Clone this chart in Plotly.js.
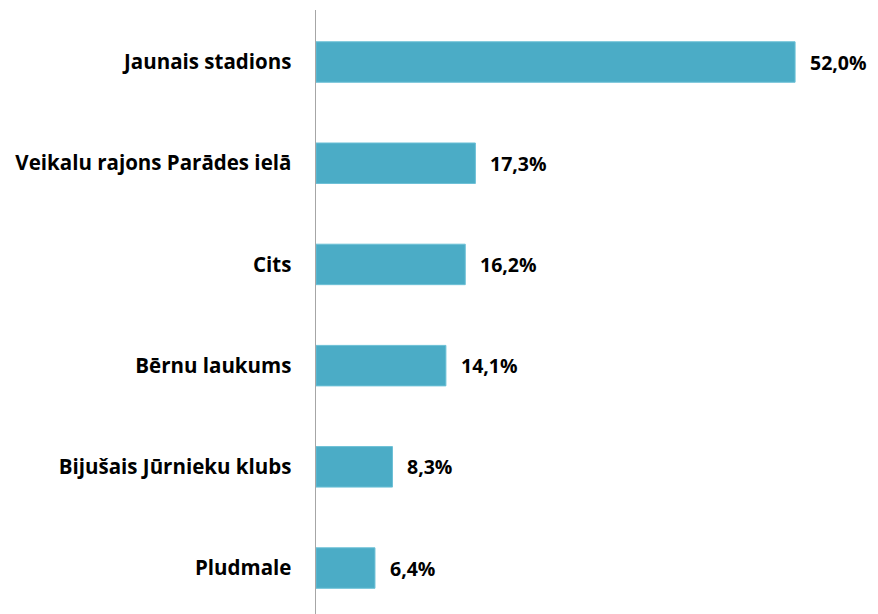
<!DOCTYPE html>
<html>
<head>
<meta charset="utf-8">
<script src="https://cdn.plot.ly/plotly-3.0.1.min.js"></script>
<style>html,body{margin:0;padding:0;background:#fff;}#chart{width:878px;height:614px;}</style>
</head>
<body>
<div id="chart"></div>
<script>
const categories = ["Jaunais stadions", "Veikalu rajons Parādes ielā", "Cits", "Bērnu laukums", "Bijušais Jūrnieku klubs", "Pludmale"];
const values = [52.0, 17.3, 16.2, 14.1, 8.3, 6.4];
const valueLabels = values.map(v => v.toFixed(1).replace('.', ',') + '%');

const FONT = '"Open Sans", "Noto Sans", sans-serif';

const trace = {
  type: 'bar',
  orientation: 'h',
  x: values,
  y: categories,
  width: 0.4,
  marker: {color: '#4BACC6', line: {color: '#6cc0d6', width: 1}},
  hoverinfo: 'none'
};

const annotations = values.map((v, i) => ({
  x: v, y: categories[i], xref: 'x', yref: 'y',
  text: '<b>' + valueLabels[i] + '</b>',
  showarrow: false, xanchor: 'left', yanchor: 'middle', xshift: 13,
  font: {family: FONT, size: 19.5, color: '#000'}
}));

const layout = {
  width: 878, height: 614,
  margin: {l: 316, r: 0, t: 10, b: 0},
  paper_bgcolor: '#fff', plot_bgcolor: '#fff',
  showlegend: false,
  xaxis: {range: [0, 61.0], visible: false, fixedrange: true},
  yaxis: {
    type: 'category',
    range: [5.454, -0.514],
    showline: true, linecolor: '#a6a6a6', linewidth: 1.5,
    showgrid: false, zeroline: false,
    ticks: '', ticklabelstandoff: 19,
    tickfont: {family: FONT, size: 20.5, color: '#000', weight: 'bold'},
    fixedrange: true
  },
  annotations: annotations
};

Plotly.newPlot('chart', [trace], layout, {displayModeBar: false, staticPlot: true});
</script>
</body>
</html>
